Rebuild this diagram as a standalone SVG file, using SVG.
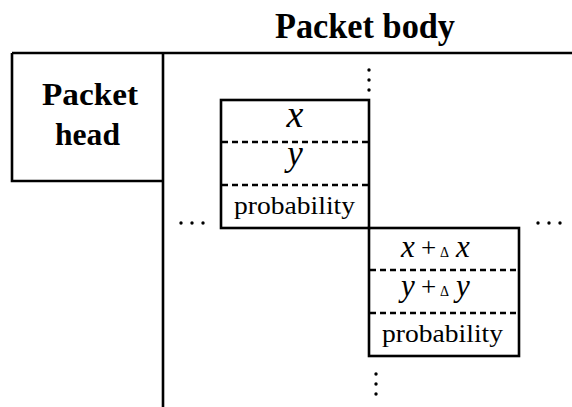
<svg xmlns="http://www.w3.org/2000/svg" width="572" height="407" viewBox="0 0 572 407">
<style>
.ln{stroke:#000;stroke-width:2.6;fill:none}
.dash{stroke:#000;stroke-width:2.4;stroke-dasharray:6 4;fill:none}
.dot{fill:#000}
</style>
<defs>
<circle id="dt" class="dot" r="1.7"/>
</defs>
<text x="275" y="38" font-family="Liberation Serif, Times New Roman, serif" font-weight="bold" font-size="35" textLength="180" lengthAdjust="spacingAndGlyphs">Packet body</text>
<g id="frame">
<path class="ln" d="M12,53 H572 M163,53 V407"/>
</g>
<g id="head">
<path class="ln" d="M12,53 V181 H163"/>
<text x="42" y="105" font-family="Liberation Serif, Times New Roman, serif" font-weight="bold" font-size="31" textLength="96" lengthAdjust="spacingAndGlyphs">Packet</text>
<text x="55" y="145" font-family="Liberation Serif, Times New Roman, serif" font-weight="bold" font-size="31" textLength="65" lengthAdjust="spacingAndGlyphs">head</text>
</g>
<g id="box1">
<rect class="ln" x="221" y="100" width="148" height="128"/>
<path class="dash" d="M222,142 H368 M222,185 H368"/>
<text x="295" y="127" font-family="Liberation Serif, Times New Roman, serif" font-style="italic" font-size="38" text-anchor="middle">x</text>
<text x="295" y="165" font-family="Liberation Serif, Times New Roman, serif" font-style="italic" font-size="35" text-anchor="middle">y</text>
<text x="234" y="214" font-family="Liberation Serif, Times New Roman, serif" font-size="25" textLength="121" lengthAdjust="spacingAndGlyphs">probability</text>
</g>
<g id="box2">
<rect class="ln" x="369" y="228" width="150" height="128"/>
<path class="dash" d="M370,270 H518 M370,313 H518"/>
<text x="401" y="257" font-family="Liberation Serif, Times New Roman, serif" font-style="italic" font-size="31">x</text>
<text x="421" y="257" font-family="Liberation Serif, Times New Roman, serif" font-size="27">+</text>
<text x="440" y="257" font-family="Liberation Serif, Times New Roman, serif" font-size="14">Δ</text>
<text x="456" y="257" font-family="Liberation Serif, Times New Roman, serif" font-style="italic" font-size="31">x</text>
<text x="401" y="296" font-family="Liberation Serif, Times New Roman, serif" font-style="italic" font-size="31">y</text>
<text x="421" y="296" font-family="Liberation Serif, Times New Roman, serif" font-size="27">+</text>
<text x="440" y="296" font-family="Liberation Serif, Times New Roman, serif" font-size="14">Δ</text>
<text x="456" y="296" font-family="Liberation Serif, Times New Roman, serif" font-style="italic" font-size="31">y</text>
<text x="382" y="342" font-family="Liberation Serif, Times New Roman, serif" font-size="25" textLength="121" lengthAdjust="spacingAndGlyphs">probability</text>
</g>
<g id="connectors">
<use href="#dt" x="369" y="70"/><use href="#dt" x="369" y="80"/><use href="#dt" x="369" y="90"/>
<use href="#dt" x="181" y="223"/><use href="#dt" x="192" y="223"/><use href="#dt" x="203" y="223"/>
<use href="#dt" x="538" y="223"/><use href="#dt" x="549" y="223"/><use href="#dt" x="560" y="223"/>
<use href="#dt" x="376" y="374"/><use href="#dt" x="376" y="384"/><use href="#dt" x="376" y="394"/>
</g>
</svg>
